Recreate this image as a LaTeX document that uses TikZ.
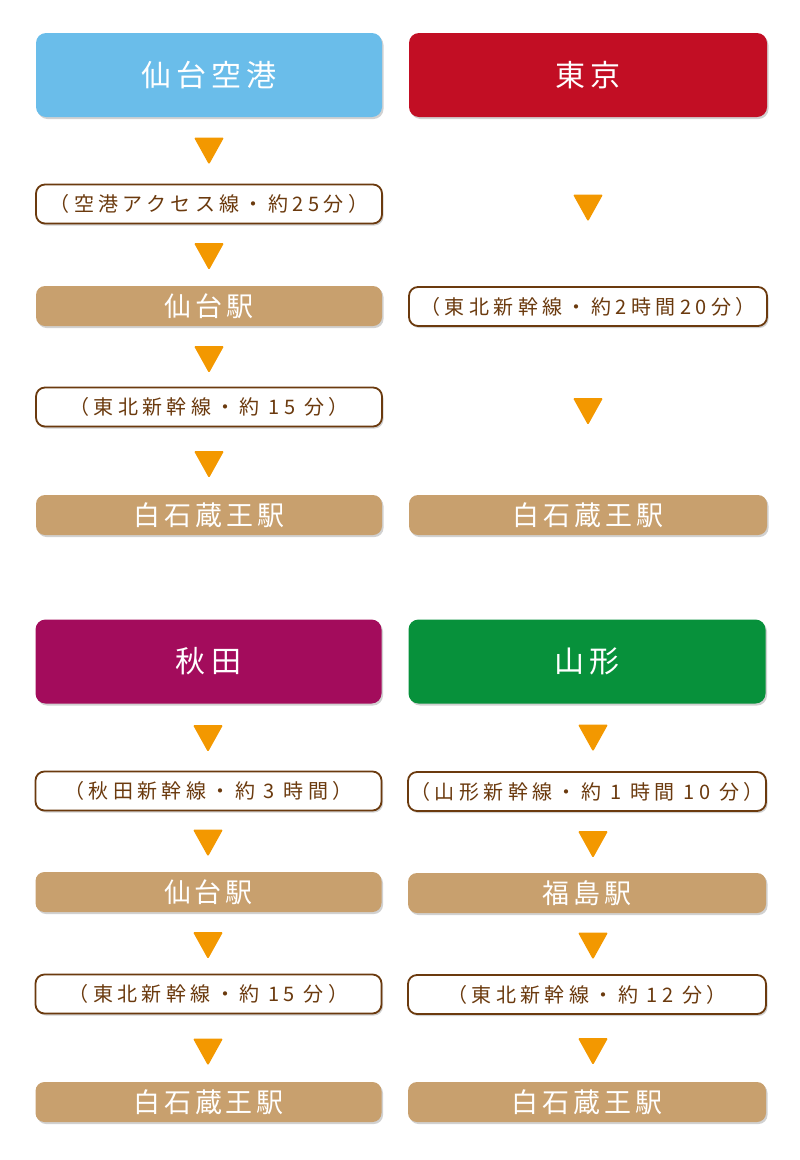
\documentclass[tikz,border=0pt]{standalone}
\usepackage{fontspec}
\setmainfont{Noto Sans CJK JP}
\newfontfamily\hdfont[LetterSpace=17]{Noto Sans CJK JP}
\newfontfamily\stfont[LetterSpace=14]{Noto Sans CJK JP}
\newfontfamily\plfont[LetterSpace=22]{Noto Sans CJK JP}
\usetikzlibrary{shadows}
\definecolor{skyb}{HTML}{6ABDEA}
\definecolor{tkred}{HTML}{C20E24}
\definecolor{akmag}{HTML}{A30C5C}
\definecolor{ymgrn}{HTML}{07913B}
\definecolor{tan}{HTML}{C8A06E}
\definecolor{brn}{HTML}{6B3A0E}
\definecolor{org}{HTML}{F39800}
\tikzset{
  shd/.style={drop shadow={shadow xshift=1.5pt,shadow yshift=-2pt,opacity=.3,fill=black!60}},
  header/.style={shd,rounded corners=10pt,minimum height=84pt,inner sep=0pt,text=white,font=\hdfont\fontsize{30}{30}\selectfont},
  station/.style={shd,fill=tan,rounded corners=9pt,minimum height=40pt,inner sep=0pt,text=white,font=\stfont\fontsize{27}{27}\selectfont},
  pill/.style={shd,fill=white,draw=brn,line width=1.8pt,rounded corners=9pt,minimum height=39pt,inner sep=0pt,text=brn,font=\plfont\fontsize{20}{20}\selectfont},
  pics/tri/.style={code={\fill[org,rounded corners=1.2pt] (-15,-13.5) -- (15,-13.5) -- (0,13.5) -- cycle;}}
}
\begin{document}
\begin{tikzpicture}[x=1pt,y=-1pt]
\useasboundingbox (0,0) rectangle (800,1160);
% top-left
\node[header,fill=skyb,minimum width=346pt] (h1) at (209,75) {仙台空港};
\node[pill,minimum width=346pt] (p1) at (209,204) {（空港アクセス線・約25分）};
\node[station,minimum width=346pt] (s1) at (209,306) {仙台駅};
\node[pill,minimum width=346pt] (p2) at (209,407) {（東北新幹線・約 15 分）};
\node[station,minimum width=346pt] (s2) at (209,515) {白石蔵王駅};
\pic at (209,151) {tri};
\pic at (209,256.5) {tri};
\pic at (209,359.5) {tri};
\pic at (209,464.5) {tri};
% top-right
\node[header,fill=tkred,minimum width=358pt] (h2) at (588,75) {東京};
\node[pill,minimum width=358pt] (p3) at (588,306.5) {（東北新幹線・約2時間20分）};
\node[station,minimum width=358pt] (s3) at (588,515) {白石蔵王駅};
\pic at (588,208) {tri};
\pic at (588,411.5) {tri};
% bottom-left
\node[header,fill=akmag,minimum width=346pt] (h3) at (208.5,661.5) {秋田};
\node[pill,minimum width=346pt] (p4) at (208.5,791) {（秋田新幹線・約 3 時間）};
\node[station,minimum width=346pt] (s4) at (208.5,892) {仙台駅};
\node[pill,minimum width=346pt] (p5) at (208.5,994) {（東北新幹線・約 15 分）};
\node[station,minimum width=346pt] (s5) at (208.5,1102) {白石蔵王駅};
\pic at (208,738.5) {tri};
\pic at (208,843) {tri};
\pic at (208,945.5) {tri};
\pic at (208,1052) {tri};
% bottom-right
\node[header,fill=ymgrn,minimum width=357pt] (h4) at (587,661.5) {山形};
\node[pill,minimum width=358pt] (p6) at (587,791.5) {（山形新幹線・約 1 時間 10 分）};
\node[station,minimum width=358pt] (s6) at (587,893) {福島駅};
\node[pill,minimum width=358pt] (p7) at (587,994.5) {（東北新幹線・約 12 分）};
\node[station,minimum width=358pt] (s7) at (587,1102) {白石蔵王駅};
\pic at (593,738) {tri};
\pic at (593,844.5) {tri};
\pic at (593,946) {tri};
\pic at (593,1051.5) {tri};
\end{tikzpicture}
\end{document}
